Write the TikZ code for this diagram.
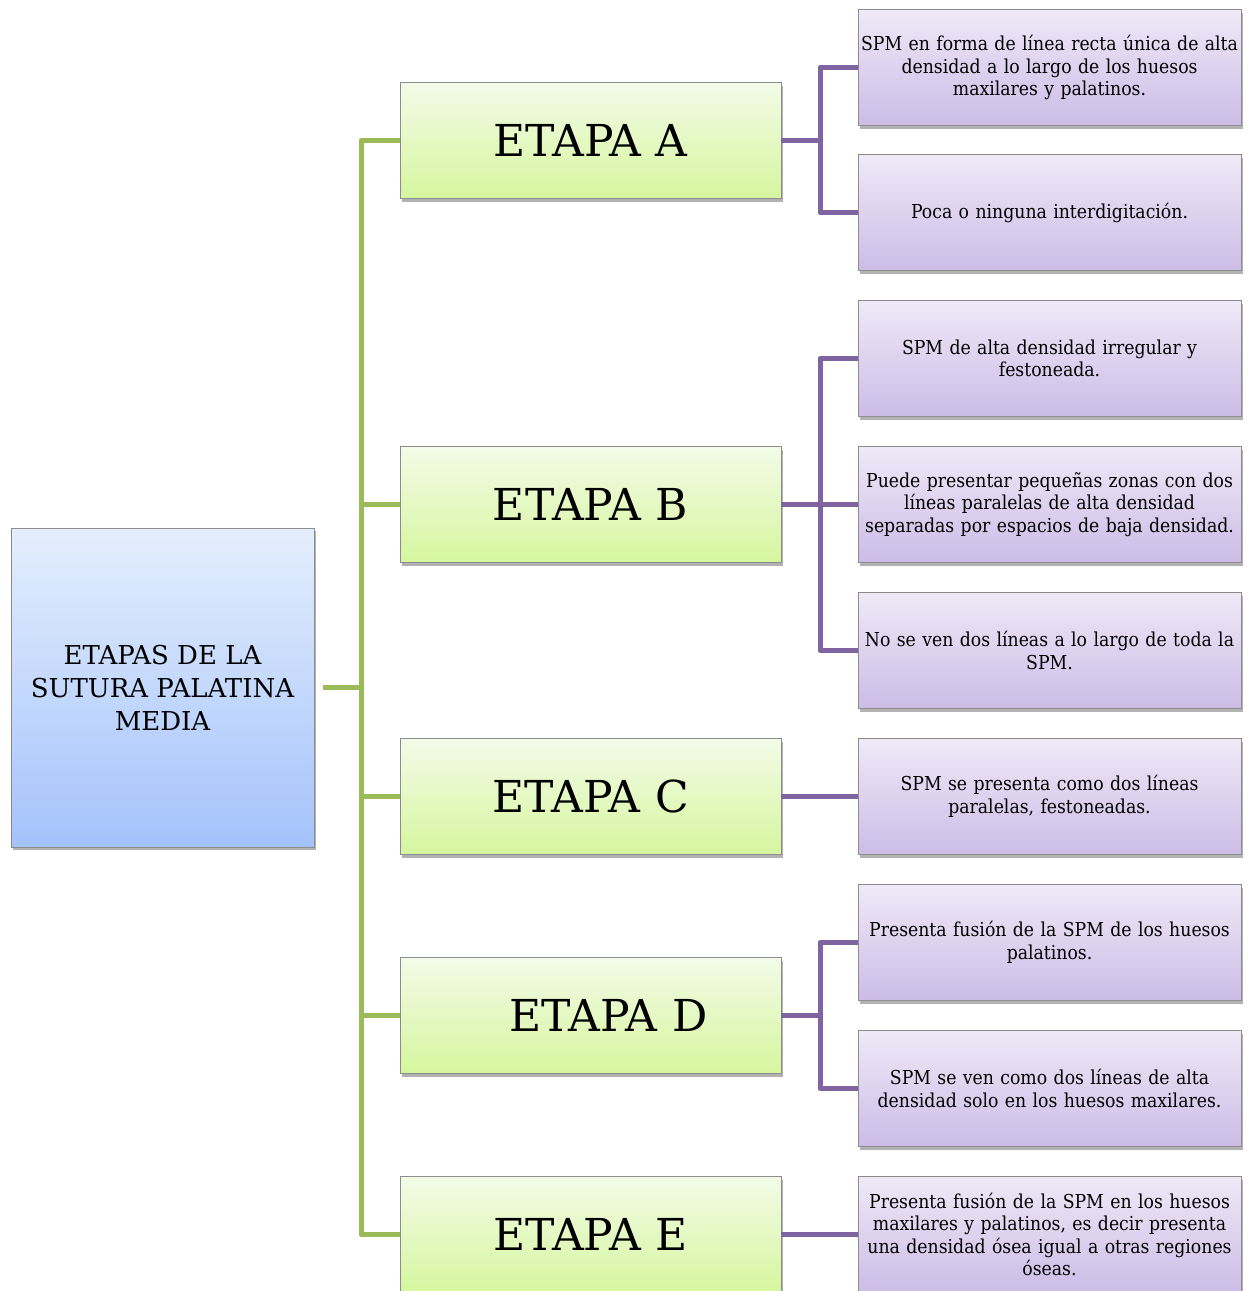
\documentclass[tikz,border=0pt]{standalone}
\usepackage{fontspec}
\setmainfont{DejaVu Serif}
\newfontfamily\condfont{DejaVu Serif Condensed}
\usetikzlibrary{shadows}
\definecolor{gline}{RGB}{155,187,89}
\definecolor{pline}{RGB}{128,100,162}
\definecolor{boxborder}{RGB}{140,140,140}
\definecolor{bluetop}{RGB}{228,238,253}
\definecolor{bluebot}{RGB}{164,195,251}
\definecolor{greentop}{RGB}{243,251,232}
\definecolor{greenbot}{RGB}{214,246,158}
\definecolor{purptop}{RGB}{239,233,247}
\definecolor{purpbot}{RGB}{204,188,231}
\tikzset{
  basebox/.style={draw=boxborder, line width=0.8pt,
    drop shadow={shadow xshift=2pt, shadow yshift=-3pt, opacity=0.3, fill=black},
    align=center, inner sep=0pt, minimum height=116pt},
  rootbox/.style={basebox, top color=bluetop, bottom color=bluebot,
    minimum width=303pt, minimum height=319pt, font=\fontsize{26}{33}\selectfont},
  stagebox/.style={basebox, top color=greentop, bottom color=greenbot,
    minimum width=381pt, text width=381pt, font=\fontsize{44}{52}\selectfont},
  descbox/.style={basebox, top color=purptop, bottom color=purpbot,
    minimum width=383pt, text width=383pt, font=\condfont\fontsize{19.2}{22.5}\selectfont},
  gconn/.style={draw=gline, line width=5pt, line join=round},
  pconn/.style={draw=pline, line width=5pt, line join=round}
}
\begin{document}
\begin{tikzpicture}[x=1pt,y=-1pt]
\useasboundingbox (0,0) rectangle (1253,1291);
\clip (0,0) rectangle (1253,1291);
\coordinate (gx) at (361,0);
\coordinate (px) at (820,0);

\path (162.5,687.5) coordinate (rootc);
\path (590.5,140.5) coordinate (Ac) (590.5,504.5) coordinate (Bc) (590.5,796.5) coordinate (Cc)
      (590.5,1015.5) coordinate (Dc) (590.5,1234.5) coordinate (Ec);

\node[rootbox] (root) at (rootc) {ETAPAS DE LA\\SUTURA PALATINA\\MEDIA};

\node[stagebox] (A) at (Ac) {ETAPA A};
\node[stagebox] (B) at (Bc) {ETAPA B};
\node[stagebox] (C) at (Cc) {ETAPA C};
\node[stagebox] (D) at (Dc) {\hspace*{36pt}ETAPA D};
\node[stagebox] (E) at (Ec) {ETAPA E};

\node[descbox] (d1) at (1049.5,67.5) {SPM en forma de línea recta única de alta\\densidad a lo largo de los huesos\\maxilares y palatinos.};
\node[descbox] (d2) at (1049.5,212.5) {Poca o ninguna interdigitación.};
\node[descbox] (d3) at (1049.5,358.5) {SPM de alta densidad irregular y\\festoneada.};
\node[descbox] (d4) at (1049.5,504.5) {Puede presentar pequeñas zonas con dos\\líneas paralelas de alta densidad\\separadas por espacios de baja densidad.};
\node[descbox] (d5) at (1049.5,650.5) {No se ven dos líneas a lo largo de toda la\\SPM.};
\node[descbox] (d6) at (1049.5,796.5) {SPM se presenta como dos líneas\\paralelas, festoneadas.};
\node[descbox] (d7) at (1049.5,942.5) {Presenta fusión de la SPM de los huesos\\palatinos.};
\node[descbox] (d8) at (1049.5,1088.5) {SPM se ven como dos líneas de alta\\densidad solo en los huesos maxilares.};
\node[descbox] (d9) at (1049.5,1234.5) {Presenta fusión de la SPM en los huesos\\maxilares y palatinos, es decir presenta\\una densidad ósea igual a otras regiones\\óseas.};

\draw[gconn, shorten <=9pt] (root.east) -- (root.east -| gx);
\draw[gconn] (A.west) -- (A.west -| gx) -- (E.west -| gx) -- (E.west);
\draw[gconn] (B.west) -- (B.west -| gx);
\draw[gconn] (C.west) -- (C.west -| gx);
\draw[gconn] (D.west) -- (D.west -| gx);

\draw[pconn] (A.east) -- (A.east -| px);
\draw[pconn] (d1.west) -- (d1.west -| px) -- (d2.west -| px) -- (d2.west);
\draw[pconn] (B.east) -- (B.east -| px);
\draw[pconn] (d3.west) -- (d3.west -| px) -- (d5.west -| px) -- (d5.west);
\draw[pconn] (d4.west) -- (d4.west -| px);
\draw[pconn] (C.east) -- (d6.west);
\draw[pconn] (D.east) -- (D.east -| px);
\draw[pconn] (d7.west) -- (d7.west -| px) -- (d8.west -| px) -- (d8.west);
\draw[pconn] (E.east) -- (d9.west);
\end{tikzpicture}
\end{document}
